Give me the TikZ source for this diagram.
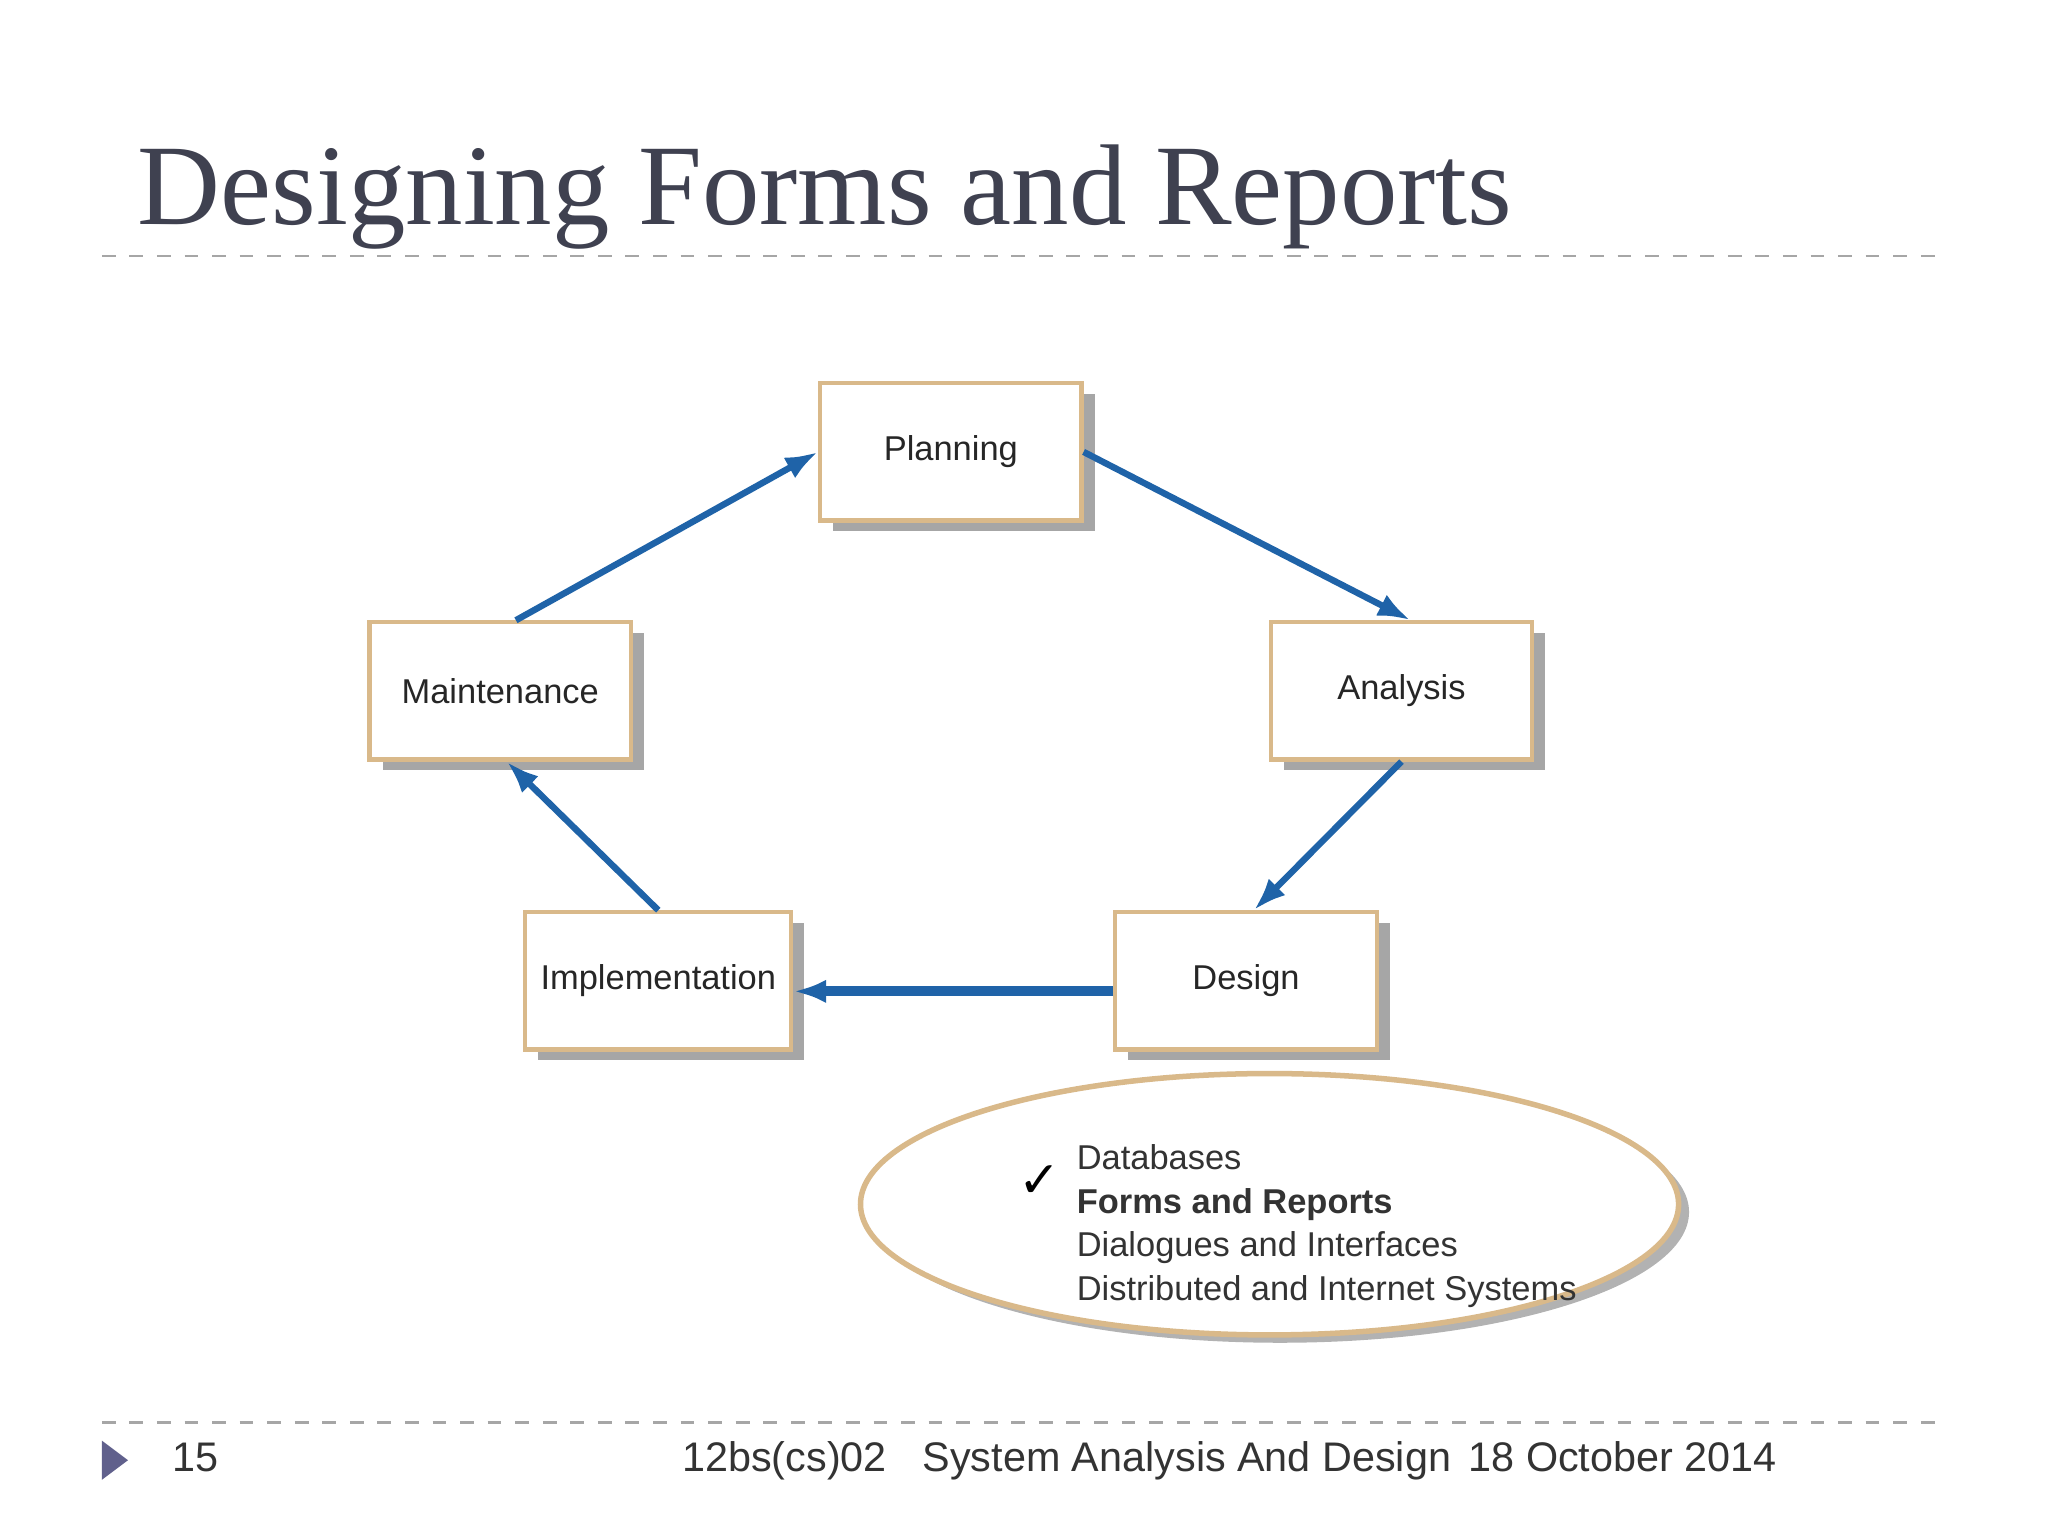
\documentclass[tikz,border=0pt]{standalone}
\usepackage{fontspec}
\setmainfont{Liberation Serif}
\setsansfont{Liberation Sans}
\usetikzlibrary{arrows.meta,shapes.geometric}
\definecolor{tan}{HTML}{D9B98A}
\definecolor{ttl}{HTML}{3F4150}
\definecolor{arr}{HTML}{1F63A8}
\tikzset{box/.style={draw=tan,fill=white,line width=0.9pt,minimum width=2cm,minimum height=1.05cm,font=\sffamily\fontsize{7.5}{9}\selectfont,text=black!85,
  preaction={fill=black!35,transform canvas={xshift=0.1cm,yshift=-0.08cm}}},
  link/.style={draw=arr,line width=1.4pt,-{Latex[length=0.25cm,width=0.18cm]}}}
\begin{document}
\begin{tikzpicture}[x=0.01cm,y=-0.01cm]
\useasboundingbox (0,0) rectangle (1568,1176);
\node[anchor=base west,text=ttl,font=\fontsize{25}{28}\selectfont] (title) at (93,172) {Designing Forms and Reports};
\draw[black!35,dashed,line width=0.5pt] (78,196) -- (1490,196);
\draw[black!35,dashed,line width=0.5pt] (78,1089) -- (1490,1089);
\node[box] (pl) at (728,346) {Planning};
\node[box] (mn) at (383,529) {Maintenance};
\node[box] (an) at (1073,529) {Analysis};
\node[box] (im) at (504,751) {Implementation};
\node[box] (ds) at (954,751) {Design};
\draw[link] ([xshift=0.12cm]mn.north) -- (pl.west);
\draw[link] (pl.east) -- ([xshift=0.07cm]an.north);
\draw[link] (an.south) -- ([xshift=0.06cm]ds.north);
\draw[link,line width=2.2pt] ([yshift=-0.08cm]ds.west) -- ([yshift=-0.08cm]im.east);
\draw[link] (im.north) -- ([xshift=0.05cm]mn.south);
\node[ellipse,draw=tan,line width=1.2pt,fill=white,minimum width=6.26cm,minimum height=2.0cm,
  preaction={fill=black!30,transform canvas={xshift=0.08cm,yshift=-0.06cm}}] (el) at (972,922) {};
\node[anchor=north west,align=left,font=\sffamily\fontsize{7.5}{9.5}\selectfont,text=black!80] (lst) at (812,864)
 {Databases\\ \textbf{Forms and Reports}\\ Dialogues and Interfaces\\ Distributed and Internet Systems};
\node[font=\fontsize{11}{12}\selectfont] (ck) at (796,905) {\fontspec{DejaVu Sans}✓};
\fill[black!30!blue!25!gray] (78,1103) -- (98,1118) -- (78,1133) -- cycle;
\node[anchor=base west,font=\sffamily\fontsize{9}{10}\selectfont,text=black!80] (pg) at (120,1127) {15};
\node[anchor=base west,font=\sffamily\fontsize{9}{10}\selectfont,text=black!80] (f1) at (510,1127) {12bs(cs)02};
\node[anchor=base west,font=\sffamily\fontsize{9}{10}\selectfont,text=black!80] (f2) at (694,1127) {System Analysis And Design};
\node[anchor=base west,font=\sffamily\fontsize{9}{10}\selectfont,text=black!80] (f3) at (1112,1127) {18 October 2014};
\end{tikzpicture}
\end{document}
